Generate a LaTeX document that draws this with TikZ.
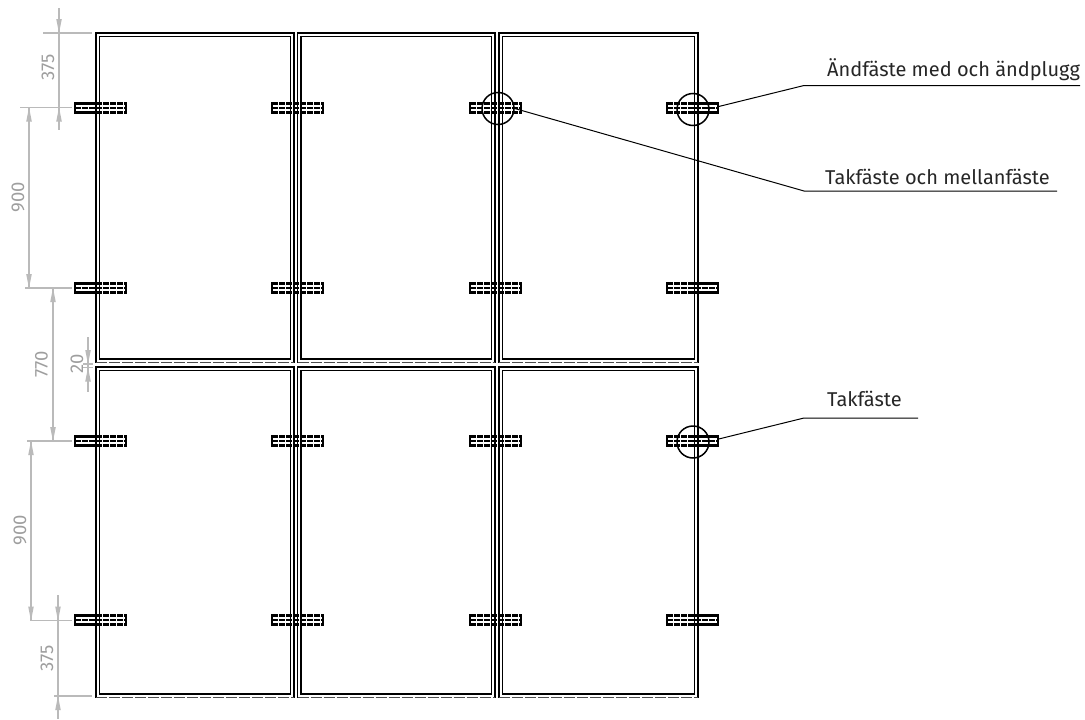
\documentclass[tikz,border=0pt]{standalone}
\usepackage{fontspec}
\setmainfont{Fira Sans}
\usetikzlibrary{arrows.meta}

\tikzset{
  panelline/.style={black,line width=1.4pt},
  paneledge/.style={black!70,line width=1.1pt,dash pattern=on 11pt off 2pt},
  fixdash/.style={black,line width=2.6pt,dash pattern=on 5.5pt off 1.5pt},
  fixmid/.style={black,line width=1.8pt,dash pattern=on 5.5pt off 1.5pt},
  fixsolid/.style={black,line width=3pt},
  fixend/.style={black,line width=1.6pt},
  dimline/.style={black!27,line width=1.1pt},
  dimtext/.style={black!38,font=\fontsize{18.5}{18.5}\selectfont,rotate=90},
  leader/.style={black,line width=1pt},
  calloutlabel/.style={black!85,font=\fontsize{20}{20}\selectfont,anchor=base west,inner sep=0pt},
  markcircle/.style={circle,draw=black,line width=1.5pt,minimum size=32pt,inner sep=0pt}
}

\begin{document}
\begin{tikzpicture}[x=1pt,y=-1pt]
  \useasboundingbox (0,0) rectangle (1085,720);

  % Panels, two rows of three
  \foreach \px/\pr in {96/294,297.5/495,499/698}
  {
    \foreach \pt/\pb in {33/362.5,367/697.5}
    {
      \draw[panelline] (\px,\pb) -- (\px,\pt) -- (\pr,\pt) -- (\pr,\pb);
      \draw[paneledge] (\px,\pb) -- (\pr,\pb);
      \draw[panelline] (\px+3.5,\pt+3.7) rectangle (\pr-3.5,\pb-3.4);
    }
  }

  % Fixings on each row and panel edge
  \foreach \fy in {108,288,441,620}
  {
    \foreach \fx/\sa/\sb in {75/75/96,272/272/272,470/470/470,667/698/718}
    {
      \draw[fixdash] (\fx,\fy-4.5) -- ++(51,0);
      \draw[fixdash] (\fx,\fy+4.5) -- ++(51,0);
      \draw[fixmid] (\fx,\fy) -- ++(51,0);
      \draw[fixend] (\fx,\fy-5.8) -- ++(0,11.6) (\fx+51,\fy-5.8) -- ++(0,11.6);
      \draw[fixsolid] (\sa,\fy-4.5) -- (\sb,\fy-4.5) (\sa,\fy+4.5) -- (\sb,\fy+4.5);
    }
  }

  % Dimensions
  \draw[dimline] (43,33) -- (92,33);
  \draw[dimline] (20,107.5) -- (72,107.5);
  \draw[dimline] (25,288) -- (72,288);
  \draw[dimline] (27,441) -- (72,441);
  \draw[dimline] (30,620.5) -- (72,620.5);
  \draw[dimline] (54,696) -- (92,696);
  \draw[dimline] (83,364) -- (93,364);
  \draw[dimline] (83,367.5) -- (93,367.5);

  \draw[dimline] (59,8) -- (59,130);
  \draw[dimline] (29,107.5) -- (29,288);
  \draw[dimline] (53,288) -- (53,441);
  \draw[dimline] (31,441) -- (31,620.5);
  \draw[dimline] (58,595) -- (58,719);
  \draw[dimline] (88,337) -- (88,392);
  \foreach \ax/\ay/\as in {59/33/-1,59/107.5/1,29/107.5/1,29/288/-1,53/288/1,53/441/-1,31/441/1,31/620.5/-1,58/620.5/-1,58/696/1,88/364/-1,88/367.5/1}
  {
    \fill[black!27] (\ax,\ay) -- ++(-2.8,\as*14) -- ++(5.6,0) -- cycle;
  }

  \node[dimtext] (dimA) at (48,67) {375};
  \node[dimtext] (dimB) at (18,197) {900};
  \node[dimtext] (dimC) at (41.5,364) {770};
  \node[dimtext] (dimD) at (77,364) {20};
  \node[dimtext] (dimE) at (20,530) {900};
  \node[dimtext] (dimF) at (47,658) {375};

  % Callouts
  \node[markcircle] (circA) at (693,109.5) {};
  \node[markcircle] (circB) at (498,108.5) {};
  \node[markcircle] (circC) at (693,442) {};

  \coordinate (bendA) at (804,85.5);
  \coordinate (endA) at (1080,85.5);
  \coordinate (bendB) at (804,191);
  \coordinate (endB) at (1057,191);
  \coordinate (bendC) at (804,418);
  \coordinate (endC) at (918,418);

  \node[calloutlabel] (labelA) at (827,76) {Ändfäste med och ändplugg};
  \node[calloutlabel] (labelB) at (825,184) {Takfäste och mellanfäste};
  \node[calloutlabel] (labelC) at (827,406) {Takfäste};

  \draw[leader] (circA.east) ++(9,-3) -- (bendA) -- (endA);
  \draw[leader] (circB.east) -- (bendB) -- (endB);
  \draw[leader] (circC.east) ++(9,-3) -- (bendC) -- (endC);
\end{tikzpicture}
\end{document}
